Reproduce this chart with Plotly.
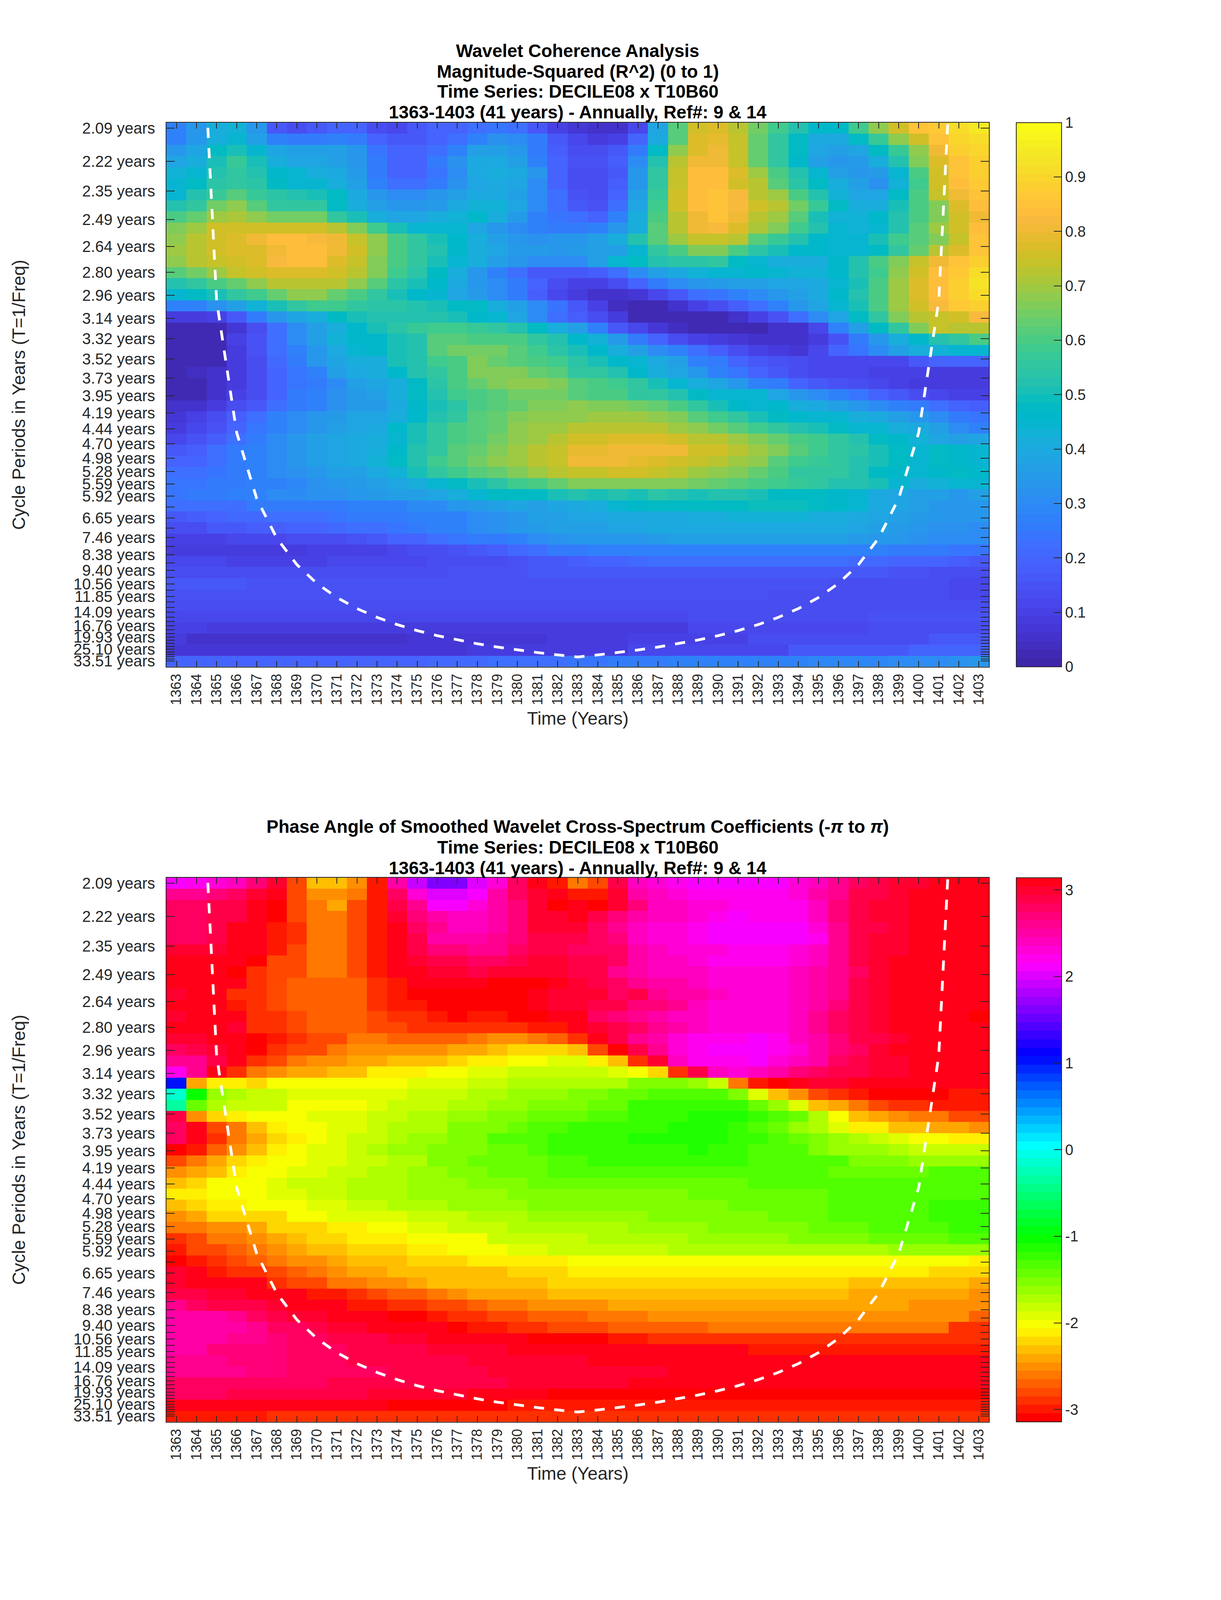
import colorsys
import plotly.graph_objects as go

years = list(range(1363, 1404))
periods = [2.09,2.22,2.35,2.49,2.64,2.80,2.96,3.14,3.32,3.52,3.73,3.95,4.19,4.44,4.70,4.98,5.28,5.59,5.92,
           6.27,6.65,7.05,7.46,7.91,8.38,8.88,9.40,9.96,10.56,11.18,11.85,12.55,13.30,14.09,14.93,15.82,
           16.76,17.76,18.81,19.93,21.11,22.37,23.70,25.10,26.59,28.17,29.85,31.63,33.51]
labelled = ["2.09","2.22","2.35","2.49","2.64","2.80","2.96","3.14","3.32","3.52","3.73","3.95","4.19","4.44",
            "4.70","4.98","5.28","5.59","5.92","6.65","7.46","8.38","9.40","10.56","11.85","14.09","16.76",
            "19.93","25.10","33.51"]
coi_years = list(range(1364, 1403))
coi_period = [1.5,3,4.5,6,7.5,9,10.5,12,13.5,15,16.5,18,19.5,21,22.5,24,25.5,27,28.5,30,
              28.5,27,25.5,24,22.5,21,19.5,18,16.5,15,13.5,12,10.5,9,7.5,6,4.5,3,1.5]

coherence = [
[.27,.33,.42,.43,.33,.17,.13,.17,.20,.20, .13,.12,.16,.20,.20,.22,.24,.22,.17,.10, .07,.05,.05,.12,.38,.62,.76,.78,.73,.65, .58,.52,.46,.46,.58,.68,.76,.85,.86,.92, .95],
[.27,.33,.42,.45,.37,.27,.25,.25,.27,.26, .20,.16,.17,.20,.22,.27,.32,.30,.25,.17, .12,.08,.10,.20,.40,.62,.77,.79,.74,.63, .55,.47,.40,.40,.48,.57,.68,.76,.85,.90, .92],
[.33,.38,.47,.50,.45,.38,.37,.37,.36,.33, .24,.20,.20,.23,.28,.37,.37,.33,.26,.18, .13,.13,.16,.26,.47,.68,.78,.80,.74,.64, .55,.47,.38,.36,.38,.47,.57,.68,.80,.88, .90],
[.38,.42,.50,.57,.50,.42,.38,.38,.37,.34, .26,.20,.20,.25,.32,.40,.40,.37,.28,.20, .15,.15,.18,.30,.52,.72,.81,.81,.74,.63, .55,.46,.36,.33,.35,.42,.53,.66,.77,.85, .88],
[.43,.45,.52,.56,.52,.46,.44,.42,.40,.35, .25,.20,.20,.24,.30,.40,.42,.40,.33,.20, .13,.13,.17,.33,.55,.74,.83,.83,.78,.70, .60,.52,.45,.36,.33,.35,.45,.60,.76,.85, .88],
[.45,.47,.54,.56,.54,.47,.45,.45,.42,.37, .28,.22,.22,.26,.32,.38,.40,.38,.30,.20, .13,.13,.18,.33,.55,.74,.83,.83,.76,.72, .62,.54,.48,.42,.36,.32,.43,.58,.75,.83, .87],
[.45,.52,.57,.62,.57,.54,.52,.50,.47,.40, .33,.30,.30,.33,.37,.40,.40,.37,.30,.22, .15,.13,.20,.37,.57,.75,.83,.85,.82,.72, .70,.60,.52,.43,.38,.38,.47,.60,.74,.81, .85],
[.52,.56,.65,.68,.62,.56,.56,.56,.48,.42, .37,.33,.33,.35,.40,.43,.43,.38,.30,.22, .17,.15,.23,.38,.58,.76,.83,.85,.82,.76, .72,.65,.57,.47,.42,.42,.50,.60,.67,.77, .83],
[.60,.64,.70,.71,.68,.65,.65,.65,.55,.50, .42,.38,.38,.42,.43,.46,.42,.35,.28,.24, .22,.20,.27,.42,.60,.72,.80,.85,.80,.73, .70,.62,.50,.43,.43,.46,.52,.60,.66,.75, .81],
[.66,.70,.76,.76,.76,.76,.76,.76,.73,.67, .58,.50,.45,.45,.44,.38,.33,.30,.28,.26, .26,.27,.33,.42,.62,.73,.80,.82,.78,.71, .66,.58,.52,.44,.43,.45,.52,.62,.70,.76, .84],
[.68,.72,.76,.78,.80,.83,.83,.82,.80,.74, .68,.60,.55,.50,.46,.42,.37,.33,.32,.33, .33,.37,.42,.52,.62,.70,.74,.74,.72,.62, .57,.52,.46,.45,.45,.50,.58,.62,.66,.74, .85],
[.70,.73,.76,.77,.78,.80,.84,.84,.80,.75, .68,.60,.56,.52,.46,.42,.38,.35,.35,.34, .35,.36,.37,.45,.55,.60,.67,.67,.60,.54, .50,.46,.46,.45,.45,.47,.55,.64,.72,.78, .85],
[.68,.72,.74,.76,.78,.82,.84,.84,.78,.74, .66,.60,.55,.50,.44,.42,.36,.33,.31,.30, .31,.36,.44,.47,.52,.54,.54,.55,.47,.45, .42,.42,.42,.46,.52,.60,.67,.74,.80,.85, .89],
[.62,.65,.70,.74,.76,.78,.78,.78,.76,.72, .66,.58,.54,.48,.42,.34,.28,.22,.17,.16, .16,.18,.23,.30,.36,.40,.43,.44,.45,.46, .45,.43,.43,.46,.52,.58,.68,.76,.84,.87, .91],
[.53,.56,.60,.64,.68,.72,.72,.72,.72,.68, .62,.54,.50,.46,.40,.34,.30,.25,.20,.13, .10,.10,.14,.20,.25,.30,.33,.35,.36,.37, .38,.38,.40,.44,.50,.60,.70,.77,.83,.88, .93],
[.45,.47,.50,.55,.58,.63,.68,.68,.64,.60, .55,.50,.46,.45,.38,.35,.30,.25,.18,.12, .08,.05,.05,.07,.12,.17,.22,.24,.27,.30, .33,.36,.40,.46,.52,.60,.70,.78,.84,.88, .92],
[.27,.27,.32,.37,.43,.50,.56,.58,.58,.56, .54,.54,.52,.50,.47,.47,.42,.37,.30,.24, .16,.10,.04,.03,.03,.06,.10,.14,.18,.22, .28,.33,.38,.44,.50,.60,.70,.76,.82,.86, .88],
[.08,.08,.10,.17,.26,.33,.38,.42,.47,.50, .53,.53,.53,.52,.50,.46,.44,.38,.30,.23, .18,.14,.08,.03,.03,.02,.02,.03,.05,.10, .15,.22,.30,.38,.48,.56,.66,.72,.74,.76, .82],
[.02,.02,.03,.07,.14,.22,.30,.36,.42,.46, .50,.54,.57,.58,.58,.57,.56,.53,.48,.42, .36,.28,.17,.12,.07,.04,.03,.02,.02,.02, .05,.05,.12,.27,.37,.47,.56,.66,.74,.73, .73],
[.02,.02,.03,.10,.15,.23,.30,.37,.43,.46, .46,.50,.53,.62,.62,.60,.60,.60,.55,.52, .46,.43,.35,.25,.20,.14,.10,.08,.07,.06, .06,.05,.08,.15,.25,.33,.42,.46,.53,.56, .60],
[.02,.02,.03,.08,.15,.22,.28,.33,.40,.45, .46,.50,.53,.62,.65,.65,.65,.62,.58,.54, .50,.46,.42,.36,.30,.27,.22,.18,.13,.10, .09,.07,.12,.20,.24,.30,.37,.42,.43,.45, .44],
[.02,.02,.03,.08,.14,.21,.26,.33,.38,.42, .42,.50,.53,.58,.60,.67,.64,.62,.60,.58, .54,.50,.46,.44,.40,.36,.28,.25,.20,.17, .15,.13,.12,.11,.11,.11,.12,.16,.20,.20, .20],
[.03,.04,.05,.08,.13,.20,.24,.28,.36,.40, .41,.46,.53,.56,.60,.66,.66,.66,.64,.62, .56,.55,.52,.46,.42,.38,.33,.28,.24,.20, .17,.14,.12,.11,.11,.10,.10,.10,.09,.09, .09],
[.03,.03,.05,.09,.13,.20,.24,.26,.30,.36, .38,.42,.47,.54,.60,.64,.66,.68,.68,.66, .62,.60,.58,.55,.50,.45,.42,.38,.33,.28, .25,.20,.17,.15,.13,.12,.10,.09,.08,.08, .08],
[.03,.03,.05,.10,.13,.20,.25,.28,.32,.35, .37,.41,.47,.52,.58,.60,.62,.65,.65,.65, .62,.60,.60,.56,.55,.52,.48,.45,.45,.44, .38,.33,.30,.28,.24,.20,.17,.13,.11,.10, .10],
[.05,.06,.09,.13,.17,.22,.26,.28,.32,.35, .35,.40,.46,.50,.54,.60,.62,.64,.66,.67, .68,.67,.66,.65,.64,.60,.55,.50,.46,.45, .46,.42,.40,.37,.33,.30,.28,.25,.22,.20, .18],
[.07,.10,.13,.18,.22,.27,.30,.33,.35,.38, .38,.42,.46,.52,.56,.62,.64,.67,.68,.68, .68,.70,.70,.70,.68,.66,.62,.58,.55,.50, .48,.46,.44,.44,.42,.40,.37,.33,.30,.26, .24],
[.09,.12,.15,.20,.24,.28,.30,.33,.36,.38, .40,.46,.50,.56,.60,.62,.63,.68,.70,.70, .72,.72,.73,.73,.72,.70,.68,.65,.62,.58, .55,.52,.50,.47,.45,.45,.42,.40,.36,.30, .28],
[.12,.15,.18,.22,.26,.30,.33,.36,.38,.40, .42,.45,.50,.55,.60,.62,.65,.68,.70,.72, .75,.76,.77,.77,.77,.76,.73,.72,.70,.66, .64,.60,.58,.55,.52,.48,.46,.43,.38,.37, .38],
[.16,.18,.22,.25,.27,.30,.33,.36,.38,.40, .42,.46,.52,.56,.62,.64,.67,.70,.72,.74, .79,.79,.80,.80,.80,.80,.76,.75,.73,.70, .66,.62,.59,.56,.54,.50,.48,.44,.47,.46, .44],
[.19,.20,.22,.25,.28,.30,.33,.36,.38,.40, .43,.47,.52,.58,.62,.65,.68,.70,.72,.74, .80,.80,.80,.79,.78,.76,.74,.72,.70,.68, .62,.58,.57,.55,.53,.50,.47,.45,.47,.46, .45],
[.23,.23,.24,.25,.28,.30,.32,.34,.36,.37, .40,.43,.50,.56,.58,.62,.64,.66,.70,.72, .74,.74,.75,.75,.74,.73,.70,.68,.66,.64, .60,.56,.55,.55,.52,.48,.46,.44,.46,.47, .46],
[.24,.24,.26,.26,.27,.27,.29,.32,.33,.35, .37,.38,.42,.45,.48,.50,.54,.58,.60,.63, .66,.67,.67,.67,.67,.66,.65,.63,.62,.60, .58,.57,.55,.53,.52,.50,.45,.41,.43,.44, .44],
[.24,.25,.26,.27,.28,.30,.30,.32,.32,.34, .35,.36,.37,.38,.42,.45,.48,.48,.47,.50, .52,.50,.52,.50,.54,.52,.50,.52,.52,.50, .48,.47,.48,.46,.44,.40,.38,.36,.36,.34, .36],
[.22,.22,.23,.23,.25,.25,.26,.26,.26,.27, .27,.28,.30,.30,.33,.35,.36,.38,.37,.38, .40,.42,.45,.46,.47,.47,.47,.47,.48,.49, .49,.49,.47,.46,.44,.40,.38,.36,.34,.34, .33],
[.17,.18,.20,.21,.21,.22,.22,.23,.24,.25, .25,.26,.27,.28,.28,.30,.32,.33,.36,.37, .38,.38,.40,.40,.40,.40,.42,.42,.43,.43, .43,.43,.42,.42,.40,.38,.36,.35,.33,.33, .33],
[.13,.14,.17,.17,.18,.18,.19,.20,.21,.22, .23,.24,.26,.27,.28,.30,.32,.33,.35,.36, .37,.37,.38,.38,.40,.40,.40,.40,.40,.40, .40,.40,.40,.40,.38,.36,.35,.33,.32,.32, .30],
[.10,.10,.10,.11,.12,.12,.13,.13,.14,.15, .17,.19,.20,.22,.24,.25,.26,.28,.30,.32, .33,.33,.34,.34,.35,.36,.36,.36,.36,.36, .37,.37,.36,.36,.35,.34,.33,.32,.30,.30, .30],
[.08,.08,.09,.09,.09,.09,.09,.10,.10,.10, .10,.12,.13,.14,.15,.17,.18,.21,.22,.25, .26,.27,.27,.27,.28,.28,.28,.28,.28,.28, .28,.28,.28,.28,.28,.27,.26,.25,.25,.24, .24],
[.11,.11,.11,.10,.10,.10,.10,.10,.11,.11, .11,.12,.12,.13,.13,.14,.14,.15,.16,.17, .18,.19,.19,.21,.22,.22,.22,.22,.22,.22, .22,.22,.22,.22,.21,.21,.20,.20,.19,.18, .17],
[.14,.14,.14,.13,.13,.13,.13,.13,.13,.13, .13,.14,.14,.14,.15,.15,.15,.15,.16,.16, .16,.16,.16,.17,.17,.17,.17,.17,.17,.17, .17,.17,.17,.17,.16,.16,.15,.15,.14,.14, .13],
[.16,.16,.16,.16,.15,.15,.15,.15,.15,.15, .15,.15,.15,.15,.15,.15,.15,.15,.15,.15, .15,.15,.15,.15,.15,.15,.15,.15,.15,.15, .15,.15,.15,.14,.14,.14,.13,.13,.13,.12, .11],
[.15,.15,.15,.15,.15,.15,.15,.15,.15,.15, .15,.15,.15,.15,.15,.15,.15,.15,.15,.15, .15,.15,.15,.15,.15,.15,.15,.15,.15,.15, .14,.14,.14,.14,.14,.13,.13,.13,.13,.12, .12],
[.13,.13,.13,.13,.13,.13,.13,.13,.13,.13, .13,.13,.13,.13,.13,.13,.13,.13,.13,.13, .13,.13,.13,.13,.13,.13,.13,.14,.14,.14, .14,.14,.14,.14,.14,.14,.14,.14,.14,.14, .14],
[.11,.11,.11,.11,.11,.11,.11,.11,.11,.11, .11,.11,.11,.11,.11,.11,.11,.11,.12,.12, .12,.12,.12,.12,.12,.12,.14,.14,.14,.14, .14,.14,.14,.14,.14,.15,.15,.15,.15,.15, .15],
[.10,.10,.08,.08,.08,.08,.08,.08,.08,.08, .08,.08,.08,.08,.08,.09,.09,.09,.09,.09, .09,.09,.09,.09,.09,.09,.12,.12,.12,.12, .12,.12,.12,.12,.12,.14,.14,.14,.14,.14, .14],
[.09,.06,.06,.06,.06,.06,.06,.06,.06,.06, .06,.06,.07,.07,.07,.07,.07,.07,.07,.08, .08,.08,.08,.10,.10,.10,.10,.10,.10,.13, .13,.13,.13,.13,.13,.13,.13,.13,.17,.17, .17],
[.07,.07,.07,.07,.07,.07,.07,.07,.07,.07, .07,.07,.07,.07,.07,.09,.09,.09,.09,.09, .09,.09,.09,.12,.12,.12,.12,.12,.12,.12, .12,.16,.16,.16,.16,.16,.16,.20,.20,.20, .20],
[.20,.20,.20,.20,.20,.20,.20,.20,.20,.20, .20,.20,.20,.21,.21,.21,.22,.22,.23,.23, .24,.24,.25,.25,.26,.27,.27,.27,.28,.28, .28,.28,.29,.29,.29,.29,.30,.30,.31,.32, .33],
]

phase = [
[2.1,2.2,2.3,2.4,2.7,3.0,-2.75,-2.35,-2.3,-2.55, -3.0,2.5,1.9,1.6,1.6,2.05,2.3,2.75,3.1,-2.95, -2.6,-2.75,2.9,2.45,2.3,2.2,2.15,2.15,2.15,2.15, 2.15,2.3,2.45,2.6,2.75,2.85,2.95,3.0,3.05,3.1, 3.14],
[2.6,2.6,2.7,2.8,3.0,3.14,-2.75,-2.5,-2.5,-2.6, -2.95,2.8,2.3,2.0,2.0,2.15,2.5,2.75,3.0,3.14, -2.95,-3.0,2.95,2.55,2.4,2.3,2.2,2.2,2.2,2.2, 2.2,2.35,2.55,2.65,2.85,2.9,3.0,3.05,3.1,3.14, 3.14],
[2.8,2.8,2.85,2.9,3.05,-3.05,-2.75,-2.6,-2.45,-2.75, -2.95,2.9,2.6,2.15,2.15,2.35,2.5,2.7,2.95,-3.1, 3.1,-3.14,3.0,2.7,2.45,2.4,2.35,2.3,2.2,2.2, 2.2,2.25,2.4,2.7,2.85,3.0,3.0,3.05,3.1,3.14, 3.14],
[2.8,2.8,2.9,2.9,3.14,-3.05,-2.75,-2.6,-2.6,-2.75, -2.95,3.0,2.7,2.5,2.4,2.4,2.5,2.7,2.95,3.0, 3.05,2.9,2.7,2.55,2.45,2.4,2.35,2.2,2.15,2.2, 2.2,2.2,2.4,2.7,2.85,3.0,3.0,3.05,3.1,3.14, 3.14],
[2.8,2.8,2.85,3.05,3.14,-3.0,-2.9,-2.6,-2.6,-2.75, -2.95,3.1,2.8,2.6,2.45,2.45,2.55,2.7,2.95,2.95, 2.95,2.8,2.6,2.4,2.35,2.3,2.25,2.15,2.1,2.1, 2.1,2.1,2.3,2.6,2.9,2.9,2.95,3.05,3.1,3.14, 3.14],
[2.8,2.8,2.85,3.05,3.14,-3.0,-2.85,-2.6,-2.6,-2.75, -2.95,3.14,2.9,2.5,2.5,2.55,2.6,2.7,2.85,2.85, 2.85,2.8,2.7,2.4,2.3,2.3,2.2,2.15,2.1,2.1, 2.1,2.1,2.2,2.6,2.9,2.95,3.0,3.05,3.1,3.14, 3.14],
[3.0,3.0,3.0,3.05,3.14,-2.95,-2.75,-2.6,-2.6,-2.75, -2.95,3.14,2.9,2.7,2.7,2.65,2.65,2.75,2.85,2.85, 2.8,2.8,2.75,2.5,2.4,2.35,2.3,2.3,2.25,2.25, 2.25,2.3,2.4,2.6,2.85,2.95,3.0,3.14,3.14,3.14, 3.14],
[3.05,3.05,3.1,3.14,-3.05,-2.8,-2.75,-2.6,-2.6,-2.75, -3.0,3.14,3.0,2.85,2.85,2.8,2.8,2.9,2.95,2.95, 2.9,2.85,2.75,2.55,2.45,2.4,2.35,2.25,2.2,2.2, 2.2,2.35,2.4,2.6,2.85,3.0,3.1,3.14,3.14,3.14, 3.14],
[3.14,3.14,3.14,-3.05,-2.9,-2.75,-2.75,-2.6,-2.6,-2.75, -2.95,3.14,3.05,2.95,2.95,2.9,3.0,3.0,3.0,2.95, 2.9,2.85,2.65,2.55,2.45,2.45,2.4,2.3,2.3,2.3, 2.3,2.4,2.5,2.6,2.8,3.0,3.1,3.14,3.14,3.14, 3.14],
[3.05,3.14,3.14,3.14,-2.9,-2.75,-2.7,-2.7,-2.7,-2.7, -2.85,-3.0,3.14,3.05,3.05,3.05,-3.14,-3.14,-3.14,3.05, 3.0,2.85,2.75,2.6,2.5,2.55,2.4,2.3,2.3,2.3, 2.3,2.4,2.5,2.65,2.85,3.0,3.1,3.14,3.14,3.14, 3.14],
[3.0,3.1,3.14,-2.9,-2.9,-2.75,-2.7,-2.7,-2.7,-2.7, -2.85,-3.0,-3.14,-3.14,-3.14,-3.14,-3.14,-3.14,3.14,3.0, 3.0,2.95,2.8,2.85,2.65,2.5,2.5,2.4,2.35,2.3, 2.3,2.4,2.5,2.65,2.85,3.0,3.1,3.14,3.14,3.14, 3.14],
[3.14,3.14,3.14,-2.95,-2.9,-2.75,-2.7,-2.7,-2.7,-2.7, -2.85,-2.95,-3.0,-3.05,-3.05,-3.05,-3.05,-3.14,3.1,3.0, 3.0,2.9,2.85,2.7,2.7,2.65,2.4,2.3,2.3,2.3, 2.35,2.45,2.55,2.7,2.85,3.0,3.1,3.14,3.14,3.14, 3.14],
[3.0,3.14,3.14,3.14,-2.9,-2.85,-2.75,-2.7,-2.7,-2.7, -2.8,-2.85,-2.9,-2.95,-3.14,-2.95,-2.95,-3.05,-3.05,3.05, 3.05,2.8,2.7,2.6,2.55,2.45,2.4,2.3,2.3,2.3, 2.35,2.4,2.6,2.8,2.9,3.0,3.1,3.1,3.14,3.14, -3.14],
[3.14,3.14,3.1,3.0,-2.9,-2.85,-2.75,-2.7,-2.7,-2.7, -2.8,-2.8,-2.85,-2.85,-2.85,-2.85,-2.85,-2.85,-2.95,-3.0, 3.14,3.0,2.85,2.75,2.65,2.5,2.4,2.35,2.3,2.3, 2.35,2.45,2.6,2.75,2.9,3.0,3.05,3.05,3.1,3.1, 3.1],
[3.0,3.0,3.1,3.14,-3.05,-3.0,-2.9,-2.75,-2.75,-2.6, -2.6,-2.7,-2.7,-2.7,-2.7,-2.6,-2.55,-2.5,-2.65,-2.7, -2.9,3.05,2.85,2.65,2.5,2.3,2.25,2.2,2.2,2.15, 2.25,2.4,2.55,2.7,2.85,2.9,3.0,3.05,3.05,3.05, 3.05],
[2.8,2.85,3.0,3.14,-3.05,-2.9,-2.75,-2.75,-2.6,-2.55, -2.55,-2.55,-2.55,-2.55,-2.45,-2.45,-2.35,-2.25,-2.25,-2.25, -2.35,-2.75,-3.14,2.9,2.6,2.3,2.2,2.15,2.1,2.1, 2.2,2.35,2.5,2.7,2.8,2.95,3.05,3.05,3.05,3.05, 3.05],
[2.6,2.65,2.85,3.14,-2.9,-2.75,-2.6,-2.5,-2.5,-2.4, -2.4,-2.35,-2.35,-2.35,-2.25,-2.15,-2.1,-2.0,-2.0,-1.95, -1.95,-2.1,-2.35,-2.85,2.95,2.4,2.25,2.2,2.2,2.15, 2.35,2.45,2.55,2.75,2.85,2.95,3.0,3.05,3.05,3.05, 3.05],
[2.2,2.65,3.05,-2.85,-2.65,-2.55,-2.4,-2.4,-2.3,-2.3, -2.15,-2.15,-2.15,-2.05,-2.05,-1.95,-1.9,-1.85,-1.8,-1.8, -1.8,-1.8,-1.9,-2.0,-2.2,-2.9,2.85,2.4,2.3,2.4, 2.55,2.7,2.8,2.85,2.9,2.95,3.0,3.05,3.05,3.05, 3.05],
[1.0,-2.45,-2.15,-2.15,-2.2,-2.05,-2.05,-2.05,-2.05,-2.05, -2.05,-2.05,-1.95,-1.95,-1.95,-1.85,-1.85,-1.75,-1.75,-1.7, -1.7,-1.7,-1.7,-1.55,-1.55,-1.5,-1.6,-1.85,-2.6,-3.0, -3.14,3.05,3.0,3.0,3.05,3.05,3.14,3.14,3.14,3.14, 3.14],
[-0.1,-1.05,-1.65,-1.7,-1.8,-1.8,-1.95,-1.95,-1.95,-1.95, -1.95,-1.95,-1.85,-1.85,-1.8,-1.75,-1.75,-1.65,-1.65,-1.6, -1.5,-1.5,-1.45,-1.4,-1.35,-1.35,-1.3,-1.3,-1.5,-1.9, -2.3,-2.55,-2.75,-2.85,-2.95,-3.05,-3.05,-3.05,-3.05,-3.0, -3.0],
[-0.35,-1.45,-1.75,-1.85,-1.85,-1.85,-2.0,-2.0,-2.0,-2.0, -1.9,-1.85,-1.85,-1.85,-1.75,-1.75,-1.65,-1.6,-1.55,-1.55, -1.5,-1.4,-1.4,-1.25,-1.2,-1.2,-1.2,-1.2,-1.2,-1.4, -1.6,-1.95,-2.3,-2.45,-2.6,-2.75,-2.85,-2.85,-2.95,-2.95, -2.95],
[2.85,-2.55,-2.25,-2.1,-2.05,-2.05,-2.05,-1.95,-1.95,-1.95, -1.85,-1.85,-1.75,-1.75,-1.65,-1.65,-1.55,-1.55,-1.45,-1.4, -1.4,-1.35,-1.35,-1.25,-1.25,-1.2,-1.15,-1.15,-1.15,-1.2, -1.3,-1.45,-1.7,-2.05,-2.3,-2.4,-2.55,-2.6,-2.65,-2.75, -2.75],
[2.8,3.14,-2.8,-2.6,-2.3,-2.15,-2.05,-2.05,-1.95,-1.9, -1.85,-1.75,-1.7,-1.7,-1.55,-1.55,-1.5,-1.45,-1.35,-1.35, -1.25,-1.25,-1.2,-1.2,-1.2,-1.15,-1.15,-1.15,-1.25,-1.3, -1.4,-1.6,-1.75,-1.9,-2.1,-2.1,-2.3,-2.3,-2.4,-2.4, -2.5],
[2.8,3.14,-2.85,-2.6,-2.4,-2.25,-2.1,-2.05,-1.95,-1.85, -1.8,-1.7,-1.6,-1.6,-1.5,-1.5,-1.35,-1.35,-1.3,-1.25, -1.25,-1.2,-1.2,-1.1,-1.1,-1.1,-1.1,-1.1,-1.2,-1.25, -1.35,-1.4,-1.55,-1.65,-1.75,-1.85,-1.95,-2.0,-2.05,-2.1, -2.1],
[-3.14,-2.95,-2.7,-2.5,-2.3,-2.15,-2.05,-1.9,-1.9,-1.8, -1.75,-1.6,-1.6,-1.55,-1.5,-1.5,-1.4,-1.4,-1.35,-1.25, -1.25,-1.25,-1.25,-1.25,-1.2,-1.2,-1.15,-1.2,-1.2,-1.3, -1.3,-1.35,-1.5,-1.6,-1.6,-1.65,-1.75,-1.8,-1.8,-1.8, -1.8],
[-2.75,-2.6,-2.45,-2.25,-2.1,-2.05,-2.05,-1.95,-1.95,-1.8, -1.8,-1.7,-1.7,-1.55,-1.55,-1.45,-1.4,-1.4,-1.4,-1.3, -1.3,-1.25,-1.25,-1.2,-1.2,-1.2,-1.2,-1.2,-1.25,-1.3, -1.35,-1.35,-1.35,-1.35,-1.5,-1.5,-1.5,-1.6,-1.6,-1.6, -1.6],
[-2.5,-2.4,-2.3,-2.15,-2.05,-2.05,-1.95,-1.95,-1.85,-1.8, -1.75,-1.7,-1.65,-1.6,-1.5,-1.5,-1.45,-1.45,-1.4,-1.35, -1.35,-1.35,-1.3,-1.3,-1.3,-1.3,-1.3,-1.3,-1.3,-1.3, -1.3,-1.35,-1.35,-1.4,-1.4,-1.4,-1.4,-1.4,-1.35,-1.35, -1.35],
[-2.35,-2.25,-2.05,-2.05,-2.0,-1.9,-1.85,-1.85,-1.8,-1.75, -1.7,-1.7,-1.6,-1.6,-1.6,-1.55,-1.5,-1.5,-1.45,-1.45, -1.4,-1.4,-1.4,-1.4,-1.4,-1.4,-1.4,-1.4,-1.4,-1.35, -1.35,-1.35,-1.35,-1.35,-1.35,-1.35,-1.35,-1.35,-1.35,-1.35, -1.35],
[-2.15,-2.1,-2.05,-2.05,-2.0,-1.9,-1.9,-1.85,-1.8,-1.75, -1.75,-1.7,-1.65,-1.65,-1.6,-1.6,-1.6,-1.55,-1.55,-1.5, -1.5,-1.5,-1.5,-1.5,-1.5,-1.5,-1.45,-1.45,-1.45,-1.45, -1.45,-1.4,-1.4,-1.35,-1.35,-1.35,-1.35,-1.35,-1.35,-1.35, -1.35],
[-2.3,-2.2,-2.15,-2.1,-2.05,-2.0,-2.0,-1.9,-1.9,-1.85, -1.8,-1.75,-1.7,-1.7,-1.65,-1.6,-1.6,-1.6,-1.55,-1.55, -1.55,-1.5,-1.5,-1.5,-1.5,-1.5,-1.5,-1.5,-1.45,-1.45, -1.4,-1.4,-1.4,-1.35,-1.35,-1.35,-1.35,-1.3,-1.25,-1.25, -1.25],
[-2.5,-2.4,-2.25,-2.25,-2.2,-2.2,-2.05,-2.05,-1.95,-1.95, -1.95,-1.95,-1.85,-1.85,-1.8,-1.7,-1.7,-1.7,-1.65,-1.65, -1.65,-1.6,-1.6,-1.6,-1.55,-1.5,-1.5,-1.5,-1.5,-1.5, -1.45,-1.4,-1.4,-1.35,-1.35,-1.35,-1.35,-1.3,-1.25,-1.25, -1.25],
[-2.65,-2.6,-2.55,-2.55,-2.4,-2.25,-2.2,-2.2,-2.15,-2.1, -2.0,-2.0,-1.95,-1.9,-1.85,-1.85,-1.8,-1.7,-1.7,-1.7, -1.7,-1.7,-1.7,-1.65,-1.65,-1.6,-1.6,-1.55,-1.55,-1.55, -1.5,-1.5,-1.45,-1.45,-1.4,-1.35,-1.35,-1.3,-1.3,-1.25, -1.25],
[-2.85,-2.75,-2.65,-2.6,-2.5,-2.4,-2.3,-2.25,-2.2,-2.15, -2.1,-2.1,-2.05,-2.05,-2.0,-2.0,-1.85,-1.85,-1.8,-1.8, -1.8,-1.75,-1.75,-1.7,-1.7,-1.7,-1.65,-1.65,-1.6,-1.6, -1.6,-1.55,-1.5,-1.5,-1.5,-1.45,-1.45,-1.4,-1.4,-1.35, -1.35],
[-2.95,-2.8,-2.75,-2.7,-2.6,-2.5,-2.4,-2.35,-2.3,-2.25, -2.2,-2.2,-2.15,-2.1,-2.05,-2.05,-2.05,-1.95,-1.95,-1.85, -1.85,-1.85,-1.85,-1.8,-1.8,-1.75,-1.75,-1.7,-1.7,-1.7, -1.7,-1.7,-1.7,-1.7,-1.7,-1.7,-1.65,-1.65,-1.65,-1.65, -1.65],
[-3.1,-3.0,-2.85,-2.75,-2.7,-2.65,-2.55,-2.5,-2.4,-2.3, -2.3,-2.3,-2.25,-2.25,-2.2,-2.15,-2.15,-2.1,-2.1,-2.1, -2.05,-2.05,-2.05,-2.05,-2.0,-2.0,-2.0,-2.0,-2.0,-2.0, -2.0,-2.0,-2.0,-2.0,-2.0,-2.0,-2.0,-2.0,-2.0,-2.0, -2.15],
[3.0,3.14,-3.0,-2.9,-2.85,-2.8,-2.7,-2.65,-2.55,-2.45, -2.4,-2.35,-2.35,-2.3,-2.3,-2.3,-2.3,-2.25,-2.25,-2.25, -2.15,-2.15,-2.15,-2.15,-2.15,-2.15,-2.15,-2.15,-2.15,-2.15, -2.15,-2.15,-2.15,-2.15,-2.15,-2.15,-2.15,-2.15,-2.25,-2.25, -2.25],
[3.0,3.05,3.14,3.14,3.05,-2.9,-2.8,-2.75,-2.65,-2.6, -2.55,-2.5,-2.45,-2.35,-2.35,-2.35,-2.35,-2.35,-2.3,-2.25, -2.25,-2.25,-2.25,-2.25,-2.25,-2.25,-2.25,-2.25,-2.25,-2.25, -2.25,-2.25,-2.25,-2.25,-2.35,-2.35,-2.35,-2.35,-2.35,-2.35, -2.45],
[2.85,2.9,2.95,2.95,3.05,3.1,3.14,-3.0,-2.95,-2.85, -2.8,-2.7,-2.7,-2.6,-2.5,-2.45,-2.45,-2.45,-2.4,-2.35, -2.35,-2.35,-2.35,-2.35,-2.35,-2.35,-2.35,-2.35,-2.35,-2.35, -2.35,-2.35,-2.35,-2.35,-2.4,-2.4,-2.4,-2.4,-2.4,-2.4, -2.55],
[2.6,2.75,2.85,2.85,2.9,3.0,3.05,3.1,3.14,-3.0, -3.0,-2.85,-2.85,-2.8,-2.75,-2.7,-2.6,-2.6,-2.55,-2.55, -2.55,-2.5,-2.45,-2.45,-2.45,-2.45,-2.45,-2.45,-2.45,-2.45, -2.45,-2.45,-2.45,-2.45,-2.45,-2.45,-2.45,-2.5,-2.55,-2.55, -2.55],
[2.5,2.5,2.5,2.65,2.75,2.85,2.95,3.0,3.05,3.1, 3.14,-3.14,-3.05,-3.0,-2.9,-2.85,-2.75,-2.75,-2.7,-2.7, -2.7,-2.65,-2.65,-2.65,-2.55,-2.55,-2.55,-2.55,-2.55,-2.55, -2.55,-2.55,-2.55,-2.55,-2.55,-2.55,-2.55,-2.55,-2.55,-2.55, -2.7],
[2.5,2.5,2.5,2.55,2.65,2.75,2.8,2.85,2.95,3.0, 3.05,3.05,3.1,3.14,-3.14,-3.0,-3.0,-2.9,-2.85,-2.8, -2.8,-2.75,-2.7,-2.7,-2.7,-2.7,-2.7,-2.65,-2.65,-2.65, -2.65,-2.65,-2.65,-2.65,-2.65,-2.65,-2.65,-2.65,-2.65,-2.85, -2.85],
[2.5,2.5,2.5,2.6,2.65,2.7,2.75,2.8,2.85,2.9, 2.9,2.95,3.0,3.05,3.05,3.1,3.14,3.14,-3.14,-3.05, -3.05,-3.05,-3.0,-3.0,-2.9,-2.9,-2.9,-2.9,-2.9,-2.9, -2.9,-2.9,-2.9,-2.9,-2.9,-2.9,-2.9,-2.9,-2.9,-2.9, -2.9],
[2.55,2.55,2.7,2.7,2.7,2.7,2.75,2.75,2.8,2.85, 2.85,2.85,2.9,2.95,2.95,3.0,3.0,3.05,3.05,3.1, 3.1,3.1,3.1,3.14,3.14,3.14,3.14,3.14,3.14,-3.0, -3.0,-3.0,-3.0,-3.0,-3.0,-3.0,-3.0,-3.0,-3.0,-3.0, -3.0],
[2.6,2.6,2.6,2.7,2.7,2.7,2.75,2.75,2.75,2.85, 2.85,2.85,2.9,2.9,2.9,2.95,2.95,3.0,3.0,3.0, 3.0,3.05,3.05,3.05,3.05,3.05,3.05,3.05,3.05,3.14, 3.14,3.14,3.14,3.14,3.14,3.14,3.14,3.14,3.14,3.14, 3.14],
[2.6,2.6,2.6,2.65,2.7,2.7,2.75,2.75,2.75,2.8, 2.8,2.85,2.85,2.9,2.9,2.9,2.95,2.95,2.95,3.0, 3.0,3.0,3.0,3.0,3.0,3.05,3.05,3.05,3.05,3.05, 3.05,3.05,3.05,3.05,3.05,3.1,3.05,3.05,3.05,3.05, 3.05],
[2.75,2.75,2.75,2.75,2.75,2.75,2.75,2.75,2.85,2.85, 2.85,2.85,2.85,2.85,2.85,2.85,2.85,2.95,2.95,2.95, 2.95,2.95,2.95,3.05,3.05,3.05,3.05,3.05,3.05,3.05, 3.14,3.14,3.14,3.14,3.14,3.14,3.14,3.14,3.14,3.14, 3.14],
[2.8,2.8,2.8,2.9,2.9,2.9,2.9,2.9,2.9,2.9, 2.95,2.95,2.95,2.95,2.95,3.05,3.05,3.05,3.05,-3.14, -3.14,-3.14,-3.14,-3.14,-3.14,-3.14,-3.05,-3.05,-3.05,-3.05, -3.05,-3.05,-3.05,-3.05,-3.05,-3.05,-3.05,-3.05,-3.05,-3.05, -3.05],
[3.05,3.05,3.05,3.05,3.05,3.05,3.14,3.14,3.14,3.14, 3.14,-3.05,-3.05,-3.05,-3.05,-3.05,-3.05,-2.95,-2.95,-2.95, -2.95,-2.95,-2.95,-2.95,-2.95,-2.95,-2.95,-2.95,-2.95,-2.95, -2.95,-2.95,-2.95,-2.95,-2.95,-2.95,-2.95,-2.95,-2.95,-2.95, -2.95],
[-3.0,-3.0,-3.0,-3.0,-3.0,-2.9,-2.9,-2.9,-2.9,-2.9, -2.9,-2.9,-2.9,-2.85,-2.85,-2.85,-2.85,-2.85,-2.85,-2.85, -2.85,-2.85,-2.85,-2.85,-2.85,-2.85,-2.85,-2.85,-2.85,-2.85, -2.85,-2.85,-2.85,-2.85,-2.85,-2.85,-2.85,-2.85,-2.85,-2.85, -2.85],
]

parula64 = [
(.2422,.1504,.6603),(.2504,.1650,.7076),(.2578,.1818,.7511),(.2647,.1978,.7952),(.2706,.2147,.8364),(.2751,.2342,.8710),
(.2783,.2559,.8991),(.2803,.2782,.9221),(.2813,.3006,.9414),(.2810,.3228,.9579),(.2795,.3447,.9717),(.2760,.3667,.9829),
(.2699,.3892,.9906),(.2602,.4123,.9952),(.2440,.4358,.9988),(.2206,.4603,.9973),(.1963,.4847,.9892),(.1834,.5074,.9798),
(.1786,.5289,.9682),(.1764,.5499,.9520),(.1687,.5703,.9359),(.1540,.5902,.9218),(.1460,.6091,.9079),(.1380,.6276,.8973),
(.1248,.6459,.8883),(.1113,.6635,.8763),(.0952,.6798,.8598),(.0689,.6948,.8394),(.0297,.7082,.8163),(.0036,.7203,.7917),
(.0067,.7312,.7660),(.0433,.7411,.7394),(.0964,.7500,.7120),(.1408,.7584,.6842),(.1717,.7670,.6554),(.1938,.7758,.6251),
(.2161,.7843,.5923),(.2470,.7918,.5567),(.2906,.7973,.5188),(.3406,.8008,.4789),(.3909,.8029,.4354),(.4456,.8024,.3909),
(.5044,.7993,.3480),(.5616,.7942,.3045),(.6174,.7876,.2612),(.6720,.7793,.2227),(.7242,.7698,.1910),(.7738,.7598,.1646),
(.8203,.7498,.1535),(.8634,.7406,.1596),(.9035,.7330,.1774),(.9393,.7288,.2100),(.9728,.7298,.2394),(.9956,.7434,.2371),
(.9970,.7659,.2199),(.9952,.7893,.2028),(.9892,.8136,.1885),(.9786,.8386,.1766),(.9676,.8639,.1643),(.9610,.8890,.1537),
(.9597,.9135,.1423),(.9628,.9373,.1265),(.9691,.9606,.1064),(.9769,.9839,.0805)]
hsv64 = [colorsys.hsv_to_rgb(i / 64, 1, 1) for i in range(64)]


def stepped(colors):
    out = []
    n = len(colors)
    for i, (r, g, b) in enumerate(colors):
        c = f"rgb({round(r*255)},{round(g*255)},{round(b*255)})"
        out += [[i / n, c], [(i + 1) / n, c]]
    return out


# The browser window tops out at 4096 px high, so the reference's 6252 px layout is
# mapped onto that height: every vertical position is given in reference pixels.
W, H = 3125, 4096
REF_H = 6252
AX_L, AX_R = 426, 2531
CB_L, CB_W = 2601, 116
TXT = "#262626"
FONT = "Liberation Sans"
PANELS = [(469, 2603), (3431, 5565)]

freq_top, freq_bot = 1 / periods[0], 1 / periods[-1]
step = (freq_top - freq_bot) / (len(periods) - 1)
row_freq = [freq_top - i * step for i in range(len(periods))]
ticktext = [f"{p:.2f} years" if f"{p:.2f}" in labelled else "" for p in periods]

fig = go.Figure()


def panel(n, z, colors, zmin, zmax, cbvals, cbtext):
    top, bot = PANELS[n]
    sfx = "" if n == 0 else str(n + 1)
    fig.add_trace(go.Heatmap(
        x=years, y=row_freq, z=z, xaxis="x" + sfx, yaxis="y" + sfx, zmin=zmin, zmax=zmax,
        colorscale=stepped(colors), hoverinfo="skip",
        colorbar=dict(x=CB_L / W, xanchor="left", thickness=CB_W, thicknessmode="pixels",
                      len=(bot - top) / REF_H, lenmode="fraction", y=1 - (top + bot) / 2 / REF_H, yanchor="middle",
                      xpad=0, ypad=0, outlinecolor=TXT, outlinewidth=2, ticks="inside", ticklen=21,
                      tickwidth=2, tickcolor=TXT, tickmode="array", tickvals=cbvals, ticktext=cbtext,
                      tickfont=dict(family=FONT, size=38, color=TXT))))
    fig.add_trace(go.Scatter(
        x=coi_years, y=[1 / p for p in coi_period], xaxis="x" + sfx, yaxis="y" + sfx, mode="lines",
        line=dict(color="white", width=7, dash="26px,26px"), hoverinfo="skip", showlegend=False))
    fig.update_layout({
        "xaxis" + sfx: dict(domain=[AX_L / W, AX_R / W], anchor="y" + sfx, range=[years[0] - .5, years[-1] + .5],
                            tickmode="array", tickvals=years, ticktext=[str(y) for y in years], tickangle=-90,
                            ticks="inside", ticklen=15, tickwidth=2, tickcolor=TXT, showline=True, linecolor=TXT,
                            linewidth=2, mirror="ticks", showgrid=False, zeroline=False,
                            ticklabelstandoff=2, tickfont=dict(family=FONT, size=36, color=TXT)),
        "yaxis" + sfx: dict(domain=[1 - bot / REF_H, 1 - top / REF_H], anchor="x" + sfx,
                            range=[freq_bot - step / 2, freq_top + step / 2],
                            tickmode="array", tickvals=[1 / p for p in periods], ticktext=ticktext,
                            ticks="inside", ticklen=21, tickwidth=2, tickcolor=TXT, showline=True, linecolor=TXT,
                            linewidth=2, mirror="ticks", showgrid=False, zeroline=False,
                            ticklabelstandoff=19, tickfont=dict(family=FONT, size=40, color=TXT)),
    })


panel(0, coherence, parula64, 0, 1, [i / 10 for i in range(11)],
      ["0", "0.1", "0.2", "0.3", "0.4", "0.5", "0.6", "0.7", "0.8", "0.9", "1"])
panel(1, phase, hsv64, -3.14159, 3.14159, [-3, -2, -1, 0, 1, 2, 3], ["-3", "-2", "-1", "0", "1", "2", "3"])


def text(s, px, py, size, bold=False, angle=0, color=TXT):
    fig.add_annotation(xref="paper", yref="paper", x=px / W, y=1 - py / REF_H, text=f"<b>{s}</b>" if bold else s,
                       showarrow=False, xanchor="center", yanchor="middle", textangle=angle,
                       font=dict(family=FONT, size=size, color=color))


CX = (AX_L + AX_R) / 2
for s, py in zip(["Wavelet Coherence Analysis", "Magnitude-Squared (R^2) (0 to 1)",
                  "Time Series: DECILE08 x T10B60", "1363-1403 (41 years) - Annually, Ref#: 9 &amp; 14"],
                 [187, 268, 347, 428]):
    text(s, CX, py, 46, bold=True, color="black")
for s, py in zip(["Phase Angle of Smoothed Wavelet Cross-Spectrum Coefficients (-<i>π</i> to <i>π</i>)",
                  "Time Series: DECILE08 x T10B60", "1363-1403 (41 years) - Annually, Ref#: 9 &amp; 14"],
                 [3230, 3311, 3393]):
    text(s, CX, py, 46, bold=True, color="black")
text("Time (Years)", CX, 2805, 46)
text("Time (Years)", CX, 5768, 46)
text("Cycle Periods in Years (T=1/Freq)", 48, sum(PANELS[0]) / 2, 46, angle=-90)
text("Cycle Periods in Years (T=1/Freq)", 48, sum(PANELS[1]) / 2, 46, angle=-90)

fig.update_layout(width=W, height=H, margin=dict(l=0, r=0, t=0, b=0), paper_bgcolor="white",
                  plot_bgcolor="white", showlegend=False)
fig.write_html("out.html", config={"displayModeBar": False}, post_script="document.body.style.margin='0';")
